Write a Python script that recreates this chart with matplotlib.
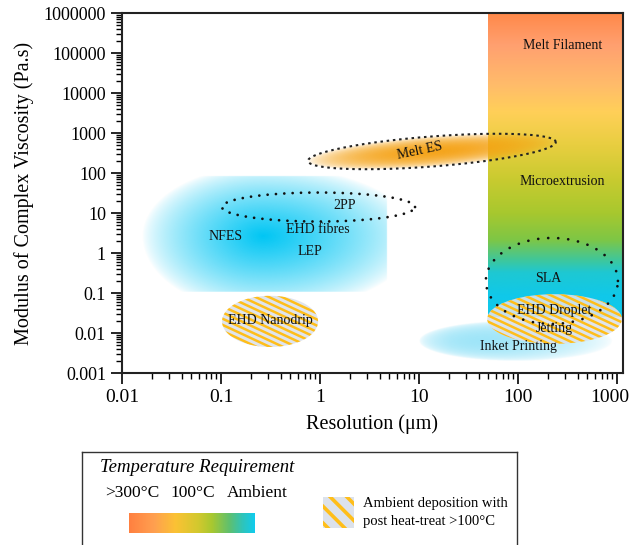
import numpy as np
import matplotlib
matplotlib.use("Agg")
import matplotlib.pyplot as plt
import matplotlib.transforms as mtransforms
from matplotlib.colors import to_rgb
from matplotlib.patches import Polygon, Rectangle
from matplotlib.ticker import FixedLocator, LogLocator, NullFormatter

plt.rcParams['font.family'] = ['Liberation Serif', 'DejaVu Serif']
plt.rcParams['hatch.linewidth'] = 2.6

# axis ranges and ticks
XMIN, XMAX = 0.01, 1150
YMIN, YMAX = 1e-3, 1e6
x_ticks = [0.01, 0.1, 1, 10, 100, 1000]
x_ticklabels = ['0.01', '0.1', '1', '10', '100', '1000']
y_ticks = [1e-3, 1e-2, 1e-1, 1, 10, 100, 1e3, 1e4, 1e5, 1e6]
y_ticklabels = ['0.001', '0.01', '0.1', '1', '10', '100', '1000', '10000', '100000', '1000000']

# temperature column (Melt Filament / Microextrusion / SLA)
column_x = [50, 1150]
column_y = [0.025, 1e6]
column_stops = [1e6, 1.5e5, 1.5e4, 3160, 480, 71, 10, 2.1, 0.66, 0.32, 0.083]
column_colors = ['#FF8848', '#FFA070', '#FFBC6A', '#FFD058', '#E8CE40', '#CACB30',
                 '#A8C82E', '#7EC645', '#40C79A', '#1EC8D2', '#10C8EA']

# regions: centre (um, Pa.s), half-width / half-height in decades
blob_center = (0.265, 2.66)
blob_box_x = [0.01, 4.75]
blob_box_y = [0.106, 84]
blob_rx = (1.22, 1.55)   # left, right
blob_ry = (1.9, 1.75)    # below, above

meltes_center = (13.5, 345)
meltes_size = (1.255, 0.375)
meltes_angle = 4.4

pp2_center = (0.966, 14.1)
pp2_size = (0.975, 0.3625)

sla_center = (220, 0.2)
sla_size = (0.667, 1.075)

droplet_center = (234, 0.0224)
droplet_size = (0.68, 0.62)

nanodrip_center = (0.313, 0.0195)
nanodrip_size = (0.485, 0.64)

inkjet_center = (95.5, 0.0063)
inkjet_size = (0.975, 0.5)

labels = ['Melt Filament', 'Microextrusion', 'SLA', 'EHD Droplet', 'Jetting',
          'Inket Printing', 'EHD Nanodrip', 'NFES', 'EHD fibres', 'LEP', '2PP', 'Melt ES']
label_x = [285, 278, 201, 231, 231, 102, 0.313, 0.112, 0.955, 0.794, 1.79, 10.2]
label_y = [1.5e5, 60, 0.237, 0.0355, 0.0133, 0.00447, 0.02, 2.66, 3.76, 1.12, 15, 355]
label_rot = [0, 0, 0, 0, 0, 0, 0, 0, 0, 0, 0, 12]

legend_stops = [0, 0.2, 0.37, 0.55, 0.66, 0.8, 0.9, 1]
legend_colors = ['#FF8040', '#FFA050', '#FBC234', '#D2C92E', '#A8C830', '#5EC070', '#30C4B8', '#10CCEE']
temp_labels = ['>300°C', '100°C', 'Ambient']

STRIPE = '#FFBE1A'
STRIPE_BG = '#DCE2EC'

W, H = 630, 545
rect = [122 / W, 1 - 373 / H, 501 / W, 360 / H]

fig = plt.figure(figsize=(W / 100, H / 100), dpi=100)
ax2 = fig.add_axes(rect, zorder=0)
ax = fig.add_axes(rect, zorder=1)
ax.set_facecolor('none')

LX0, LX1 = np.log10(XMIN), np.log10(XMAX)
LY0, LY1 = np.log10(YMIN), np.log10(YMAX)
SX = rect[2] * W / (LX1 - LX0)   # px per decade
SY = rect[3] * H / (LY1 - LY0)


def interp_colors(vals, stops, colors):
    rgb = np.array([to_rgb(c) for c in colors])
    order = np.argsort(stops)
    s = np.asarray(stops, float)[order]
    return np.stack([np.interp(vals, s, rgb[order, k]) for k in range(3)], axis=-1)


def ell_r(X, Y, c, size, ang=0):
    cx, cy = np.log10(c[0]), np.log10(c[1])
    u, v = (X - cx) * SX, (Y - cy) * SY
    t = np.deg2rad(ang)
    p = u * np.cos(t) + v * np.sin(t)
    q = -u * np.sin(t) + v * np.cos(t)
    return np.sqrt((p / (size[0] * SX)) ** 2 + (q / (size[1] * SY)) ** 2)


def ell_xy(c, size, ang=0, n=300):
    cx, cy = np.log10(c[0]), np.log10(c[1])
    t = np.linspace(0, 2 * np.pi, n)
    p, q = size[0] * SX * np.cos(t), size[1] * SY * np.sin(t)
    a = np.deg2rad(ang)
    u = p * np.cos(a) - q * np.sin(a)
    v = p * np.sin(a) + q * np.cos(a)
    return cx + u / SX, cy + v / SY


gx = np.linspace(LX0, LX1, 900)
gy = np.linspace(LY0, LY1, 700)
X, Y = np.meshgrid(gx, gy)
ext = [LX0, LX1, LY0, LY1]


def show_rgba(color, alpha, z):
    img = np.zeros(X.shape + (4,))
    img[..., :3] = to_rgb(color)
    img[..., 3] = np.clip(alpha, 0, 1)
    ax2.imshow(img, extent=ext, origin='lower', aspect='auto',
               interpolation='bilinear', zorder=z)


def striped_ellipse(c, size, z, angle=25, gap=5.6):
    ex, ey = ell_xy(c, size)
    bg = Polygon(np.c_[ex, ey], facecolor=STRIPE_BG, edgecolor='none', alpha=0.9, zorder=z)
    ax2.add_patch(bg)
    cx, cy = np.log10(c[0]), np.log10(c[1])
    L = size[0] * SX + size[1] * SY
    t = np.deg2rad(angle)
    d = np.array([np.cos(t), -np.sin(t)])
    nrm = np.array([np.sin(t), np.cos(t)])
    for k in np.arange(-L / gap, L / gap + 1):
        p0 = k * gap * nrm - L * d
        p1 = k * gap * nrm + L * d
        ln, = ax2.plot([cx + p0[0] / SX, cx + p1[0] / SX], [cy + p0[1] / SY, cy + p1[1] / SY],
                       color=STRIPE, lw=1.8, zorder=z + 0.1, solid_capstyle='butt')
        ln.set_clip_path(bg)


# temperature column
ly = np.linspace(np.log10(column_y[0]), np.log10(column_y[1]), 500)
col = interp_colors(ly, np.log10(column_stops), column_colors)
ax2.imshow(np.repeat(col[:, None, :], 2, axis=1), origin='lower', aspect='auto',
           extent=[np.log10(column_x[0]), np.log10(column_x[1]), ly[0], ly[-1]],
           interpolation='bilinear', zorder=1)

# big blue blob
bcx, bcy = np.log10(blob_center[0]), np.log10(blob_center[1])
rx = np.where(X < bcx, blob_rx[0], blob_rx[1])
ry = np.where(Y < bcy, blob_ry[0], blob_ry[1])
r = np.sqrt(((X - bcx) / rx) ** 2 + ((Y - bcy) / ry) ** 2)
a = np.clip(1 - r, 0, 1) ** 0.75
inside = ((X >= np.log10(blob_box_x[0])) & (X <= np.log10(blob_box_x[1])) &
          (Y >= np.log10(blob_box_y[0])) & (Y <= np.log10(blob_box_y[1])))
show_rgba('#00C6F4', a * inside, 2)

# inkjet
r = ell_r(X, Y, inkjet_center, inkjet_size)
bias = np.clip(1 - 0.45 * (X - np.log10(inkjet_center[0])) / inkjet_size[0], 0, 1.3)
show_rgba('#22C4F0', 0.4 * np.clip(1 - r ** 2, 0, 1) ** 0.5 * bias * (r < 1), 2)

# melt ES fill
r = ell_r(X, Y, meltes_center, meltes_size, meltes_angle)
show_rgba('#F5A010', 0.95 * np.clip(1 - r ** 2, 0, 1) ** 0.6, 3)

# hatched regions
striped_ellipse(nanodrip_center, nanodrip_size, 4)
striped_ellipse(droplet_center, droplet_size, 4)

# dotted outlines
ex, ey = ell_xy(pp2_center, pp2_size)
ax2.plot(ex, ey, color='#111111', lw=2, ls=(0, (0.01, 3.0)), dash_capstyle='round', zorder=5)
ex, ey = ell_xy(sla_center, sla_size)
ax2.plot(ex, ey, color='#111111', lw=2, ls=(0, (0.01, 3.6)), dash_capstyle='round', zorder=5)
ex, ey = ell_xy(meltes_center, meltes_size, meltes_angle)
ax2.plot(ex, ey, color='#222222', lw=1.5, ls=(0, (1.2, 1.8)), zorder=5)

for t, x, y, rot in zip(labels, label_x, label_y, label_rot):
    ax2.text(np.log10(x), np.log10(y), t, ha='center', va='center', fontsize=10,
             rotation=rot, color='#111111', zorder=6)

ax2.set_xlim(LX0, LX1)
ax2.set_ylim(LY0, LY1)
ax2.axis('off')

# log axes
ax.set_xscale('log')
ax.set_yscale('log')
ax.set_xlim(XMIN, XMAX)
ax.set_ylim(YMIN, YMAX)
ax.xaxis.set_major_locator(FixedLocator(x_ticks))
ax.set_xticklabels(x_ticklabels)
ax.yaxis.set_major_locator(FixedLocator(y_ticks))
ax.set_yticklabels(y_ticklabels)
for axis in (ax.xaxis, ax.yaxis):
    axis.set_minor_locator(LogLocator(base=10, subs=np.arange(2, 10)))
    axis.set_minor_formatter(NullFormatter())
ax.tick_params(which='major', direction='out', length=8, width=1.2, labelsize=13)
ax.tick_params(axis='x', which='major', labelsize=14)
ax.tick_params(which='minor', direction='out', length=4.5, width=1)
for sp in ax.spines.values():
    sp.set_linewidth(1.5)
    sp.set_color('#222222')
ax.set_xlabel('Resolution (μm)', fontsize=14.5, labelpad=6)
ax.set_ylabel('Modulus of Complex Viscosity (Pa.s)', fontsize=14.5, labelpad=7)
last = ax.get_xticklabels()[-1]
last.set_transform(last.get_transform() +
                   mtransforms.ScaledTranslation(-7 / 100, 0, fig.dpi_scale_trans))

# legend box, drawn in figure pixel units (y downward)
lg = fig.add_axes([82 / W, -0.05, (517 - 82) / W, (H - 452) / H + 0.05])
lg.set_xticks([])
lg.set_yticks([])
for sp in lg.spines.values():
    sp.set_linewidth(1.0)
    sp.set_color('#333333')
lg.text(100, 467, 'Temperature Requirement', fontsize=13.5, style='italic',
        va='center', ha='left')
for t, x in zip(temp_labels, [132, 193, 257]):
    lg.text(x, 493, t, fontsize=12.5, va='center', ha='center')
fr = np.linspace(0, 1, 300)
bar = interp_colors(fr, legend_stops, legend_colors)
lg.imshow(np.repeat(bar[None, :, :], 2, axis=0), extent=[129, 255, 533, 513],
          aspect='auto', interpolation='bilinear')
lg.add_patch(Rectangle((323, 497), 31, 31, facecolor=STRIPE_BG, edgecolor=STRIPE,
                       hatch='\\\\', lw=0))
lg.text(363, 503, 'Ambient deposition with', fontsize=10.5, va='center', ha='left')
lg.text(363, 521, 'post heat-treat >100°C', fontsize=10.5, va='center', ha='left')
lg.set_xlim(82, 517)
lg.set_ylim(H + 0.05 * H, 452)

fig.savefig('out.png', dpi=100)
